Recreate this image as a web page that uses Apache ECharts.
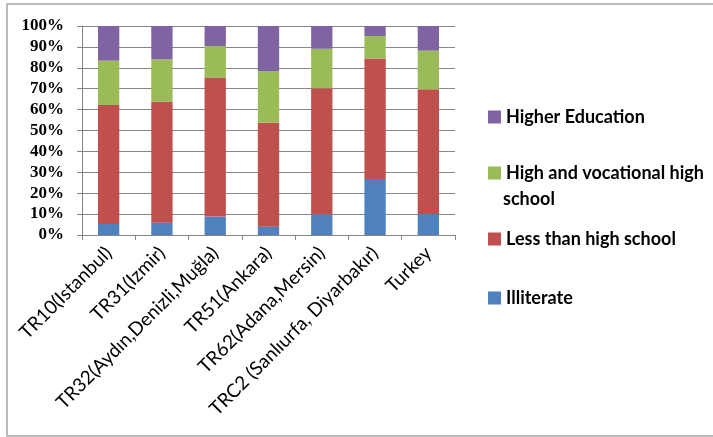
<!DOCTYPE html>
<html>
<head>
<meta charset="utf-8">
<script src="https://cdn.jsdelivr.net/npm/echarts@6/dist/echarts.min.js"></script>
<style>html,body{margin:0;padding:0;background:#fff;}#c{width:713px;height:437px;}</style>
</head>
<body>
<div id="c"></div>
<script>
const categories = ['TR10(Istanbul)', 'TR31(Izmir)', 'TR32(Aydın,Denizli,Muğla)', 'TR51(Ankara)', 'TR62(Adana,Mersin)', 'TRC2 (Sanlıurfa, Diyarbakır)', 'Turkey'];
const illiterate = [5.3, 5.9, 8.8, 4.0, 9.9, 26.8, 10.0];
const lessThanHigh = [56.9, 57.9, 66.5, 49.7, 60.3, 57.7, 59.7];
const highVocational = [21.2, 20.2, 15.1, 24.8, 18.9, 10.7, 18.5];
const higherEducation = [16.6, 16.0, 9.6, 21.5, 10.9, 4.8, 11.8];
const yTicks = ['0%','10%','20%','30%','40%','50%','60%','70%','80%','90%','100%'];

const names = ['Illiterate', 'Less than high school', 'High and vocational high school', 'Higher Education'];
const colors = ['#4F81BD', '#C0504D', '#9BBB59', '#8064A2'];
const values = [illiterate, lessThanHigh, highVocational, higherEducation];

const chart = echarts.init(document.getElementById('c'), null, {renderer: 'canvas'});

const legendFont = {fontFamily: 'Lato', fontWeight: 'bold', fontSize: 18, color: '#000'};

function legendAt(name, top) {
  return {
    data: [name], left: 483, top: top, orient: 'vertical',
    itemWidth: 13, itemHeight: 13, itemGap: 0,
    icon: 'rect', selectedMode: false,
    formatter: n => n === 'High and vocational high school' ? 'High and vocational high' : n,
    textStyle: Object.assign({lineHeight: 20}, legendFont)
  };
}

chart.setOption({
  animation: false,
  graphic: [
    {type: 'rect', shape: {x: 7, y: 4, width: 720, height: 432}, style: {fill: 'none', stroke: '#a6a6a6', lineWidth: 1.5}, silent: true},
    {type: 'text', left: 503, top: 190, style: Object.assign({text: 'school', fill: '#000'}, {font: 'bold 18px Lato'}), silent: true}
  ],
  grid: {left: 82, right: 258, top: 26, bottom: 202, containLabel: false},
  legend: [
    legendAt('Higher Education', 102),
    legendAt('High and vocational high school', 158),
    legendAt('Less than high school', 224),
    legendAt('Illiterate', 283)
  ],
  xAxis: {
    type: 'category', data: categories,
    axisLine: {lineStyle: {color: '#868686', width: 1}},
    axisTick: {show: true, length: 5, lineStyle: {color: '#868686'}},
    axisLabel: {rotate: 45, interval: 0, margin: 15, fontFamily: 'Lato', fontSize: 19, color: '#000'}
  },
  yAxis: {
    type: 'value', min: 0, max: 100, interval: 10,
    axisLine: {show: true, lineStyle: {color: '#868686', width: 1}},
    axisTick: {show: true, length: 5, lineStyle: {color: '#868686'}},
    splitLine: {lineStyle: {color: '#868686', width: 1}},
    axisLabel: {formatter: v => yTicks[Math.round(v / 10)], margin: 18, fontFamily: 'Liberation Serif', fontWeight: 'bold', fontSize: 17, color: '#000'}
  },
  series: names.map((n, i) => ({
    name: n, type: 'bar', stack: 'total', data: values[i], barWidth: '40%',
    itemStyle: {color: colors[i]}
  }))
});
</script>
</body>
</html>
